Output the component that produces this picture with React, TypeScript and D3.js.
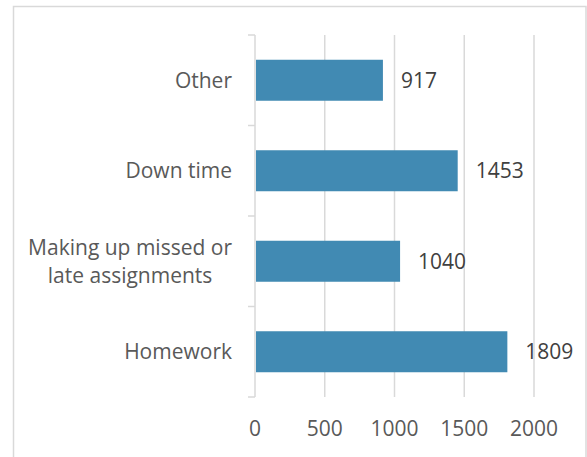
import React from "react";
import * as d3 from "d3";

const categories: string[][] = [
  ["Other"],
  ["Down time"],
  ["Making up missed or", "late assignments"],
  ["Homework"],
];
const values: number[] = [917, 1453, 1040, 1809];
const ticks: number[] = [0, 500, 1000, 1500, 2000];

const W = 587;
const H = 457;
const FONT = "'Open Sans', 'Noto Sans', sans-serif";
const FS = 21;

function textWidth(s: string): number {
  if (typeof document === "undefined") return s.length * FS * 0.5;
  const c = document.createElement("canvas").getContext("2d")!;
  c.font = `${FS}px 'Open Sans'`;
  return c.measureText(s).width;
}

export default function App() {
  const keys = categories.map((c) => c.join(" "));
  const x = d3.scaleLinear().domain([0, 2000]).range([255, 534]);
  const y = d3
    .scaleBand<string>()
    .domain(keys)
    .range([35, 397])
    .paddingInner(0.547)
    .paddingOuter(0.2735);
  const step = y.step();
  const boundaries = d3.range(keys.length + 1).map((i) => 35 + i * step);
  const grid = "#d9d9d9";
  const labelRight = 232;

  return (
    <svg
      width={W}
      height={H}
      style={{ position: "absolute", left: 0, top: 0 }}
      fontFamily={FONT}
    >
      <rect x={0} y={0} width={W} height={H} fill="#ffffff" />
      <rect
        x={13.5}
        y={6.5}
        width={572.5}
        height={470}
        fill="none"
        stroke={grid}
        strokeWidth={1.5}
      />
      {ticks.slice(1).map((t) => (
        <line
          key={"g" + t}
          x1={x(t)}
          x2={x(t)}
          y1={35}
          y2={397}
          stroke={grid}
          strokeWidth={1.5}
        />
      ))}
      <line x1={x(0)} x2={x(0)} y1={35} y2={397} stroke={grid} strokeWidth={1.5} />
      {boundaries.map((b, i) => (
        <line
          key={"t" + i}
          x1={x(0) - 7}
          x2={x(0)}
          y1={b}
          y2={b}
          stroke={grid}
          strokeWidth={1.5}
        />
      ))}
      {keys.map((k, i) => (
        <rect
          key={"b" + k}
          x={x(0) + 1}
          y={y(k)!}
          width={x(values[i]) - x(0) - 1}
          height={y.bandwidth()}
          fill="#418AB3"
        />
      ))}
      {keys.map((k, i) => {
        const cy = y(k)! + y.bandwidth() / 2;
        const lines = categories[i];
        const maxW = Math.max(...lines.map(textWidth));
        const cx = labelRight - maxW / 2;
        return (
          <text
            key={"c" + k}
            x={cx}
            textAnchor="middle"
            fontSize={FS}
            fill="#595959"
          >
            {lines.map((l, j) => (
              <tspan
                key={j}
                x={cx}
                y={cy + (j - (lines.length - 1) / 2) * 28}
                dy="0.35em"
              >
                {l}
              </tspan>
            ))}
          </text>
        );
      })}
      {keys.map((k, i) => (
        <text
          key={"v" + k}
          x={x(values[i]) + 18}
          y={y(k)! + y.bandwidth() / 2}
          dy="0.35em"
          fontSize={FS}
          fill="#404040"
        >
          {values[i]}
        </text>
      ))}
      {ticks.map((t) => (
        <text
          key={"x" + t}
          x={x(t)}
          y={429}
          dy="0.35em"
          textAnchor="middle"
          fontSize={FS}
          fill="#595959"
        >
          {t}
        </text>
      ))}
    </svg>
  );
}
